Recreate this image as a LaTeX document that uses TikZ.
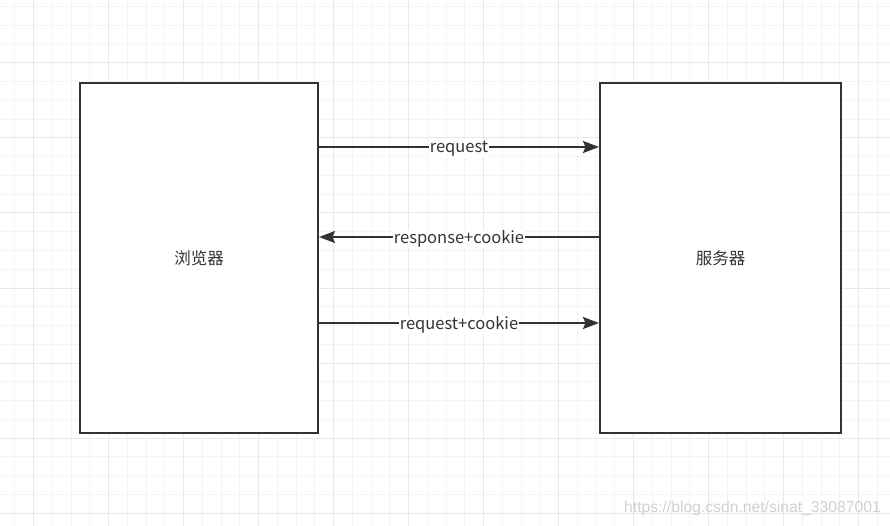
\documentclass[tikz,border=0pt]{standalone}
\usepackage{fontspec}
\newfontfamily\cjk{Noto Sans CJK SC}
\newfontfamily\wmfont{Liberation Sans}
\usepackage{tikz}
\usetikzlibrary{arrows.meta}

\definecolor{boxline}{HTML}{333333}
\definecolor{minorgrid}{HTML}{F4F4F4}
\definecolor{majorgrid}{HTML}{E8E8E8}

\tikzset{
  box/.style={draw=boxline, line width=2pt, fill=white, minimum width=#1, minimum height=350pt, inner sep=0pt,
    font=\cjk\fontsize{16.5}{19}\selectfont, text=black!80},
  msg/.style={draw=boxline, line width=2pt, -{Stealth[length=16pt,width=12pt,inset=2.5pt]}},
  msglabel/.style={fill=white, inner sep=1pt, yshift=-2pt, font=\cjk\fontsize{16.5}{19}\selectfont, text=black!80}
}

\begin{document}
\begin{tikzpicture}[x=1pt,y=-1pt]
\useasboundingbox (0,0) rectangle (890,526);
\fill[white] (0,0) rectangle (890,526);
% grid
\foreach \k in {0,...,47}{
  \draw[minorgrid, line width=1pt] (-4+18.75*\k,0) -- (-4+18.75*\k,526);
  \draw[minorgrid, line width=1pt] (0,-12+18.75*\k) -- (890,-12+18.75*\k);
}
\foreach \k in {0,...,11}{
  \draw[majorgrid, line width=1pt] (33.5+75*\k,0) -- (33.5+75*\k,526);
  \draw[majorgrid, line width=1pt] (0,63+75*\k) -- (890,63+75*\k);
}

\node[box=238pt] (browser) at (199,258){浏览器};
\node[box=241pt] (server) at (720.5,258){服务器};

\draw[msg] (browser.east |- 0,147) -- node[msglabel]{request} (server.west |- 0,147);
\draw[msg] (server.west |- 0,237) -- node[msglabel]{response+cookie} (browser.east |- 0,237);
\draw[msg] (browser.east |- 0,323) -- node[msglabel]{request+cookie} (server.west |- 0,323);

\node[anchor=east, inner sep=0pt, text=black!18, font=\wmfont\fontsize{15.7}{18}\selectfont] (mark) at (881,508){https://blog.csdn.net/sinat\_33087001};
\end{tikzpicture}
\end{document}
